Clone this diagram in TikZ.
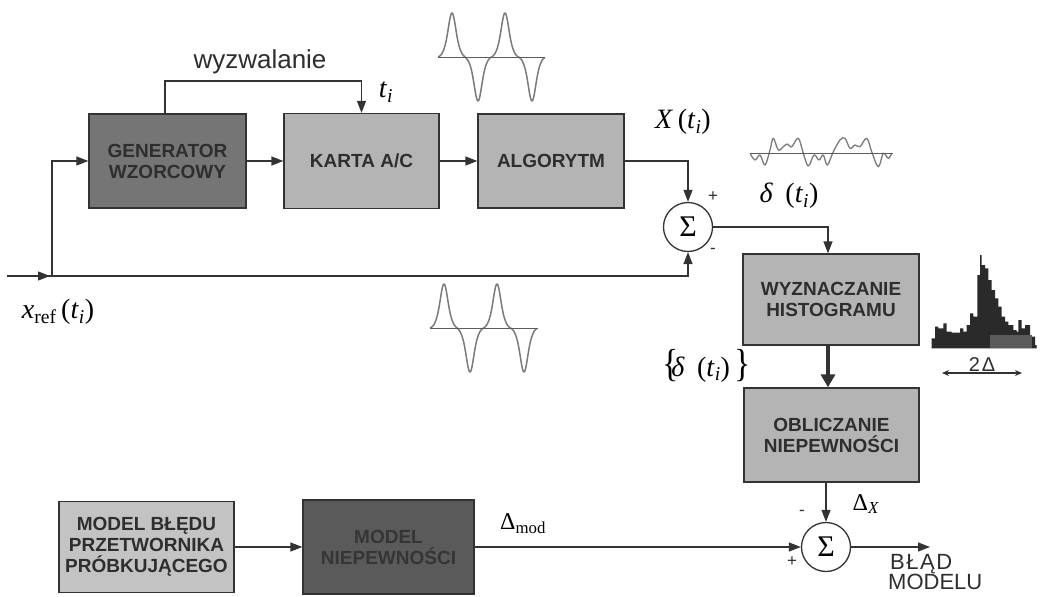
\documentclass[tikz,border=0pt]{standalone}
\usepackage{fontspec}
\usepackage{graphicx}
\setmainfont{Liberation Serif}
\newfontfamily\sansf{Liberation Sans}
\usetikzlibrary{arrows.meta}
\definecolor{ln}{HTML}{333333}
\definecolor{txt}{HTML}{2E2E2E}
\definecolor{darkfill}{HTML}{757575}
\definecolor{darkerfill}{HTML}{5A5A5A}
\definecolor{lightfill}{HTML}{B4B4B4}
\definecolor{lighterfill}{HTML}{C3C3C3}
\definecolor{wavec}{HTML}{7A7A7A}
\definecolor{histc}{HTML}{2A2A2A}
\newcommand\lblfont{\fontsize{28}{30}\selectfont}
\newcommand\sub[1]{\textsubscript{#1}}
\begin{document}
\begin{tikzpicture}[x=1pt,y=-1pt,
  con/.style={draw=ln,line width=1.3pt},
  arr/.style={con,-{Triangle[length=12pt,width=9pt]}},
  thickarr/.style={draw=ln,line width=4pt,-{Triangle[length=13pt,width=14pt]}},
  blk/.style={draw=ln,line width=1.3pt,inner sep=0pt,align=center,text=txt,
    font=\sansf\bfseries\fontsize{19}{21}\selectfont},
  sumnode/.style={circle,draw=ln,line width=1.3pt,fill=white,minimum size=49pt,inner sep=0pt,
    font=\fontsize{30}{30}\selectfont},
  lbl/.style={inner sep=0pt,text=black,font=\lblfont},
  sgn/.style={inner sep=0pt,text=txt,font=\sansf\fontsize{17}{17}\selectfont},
  wave/.style={draw=wavec,line width=1.5pt,line join=round},
  axisl/.style={draw=ln!80,line width=1pt},
  declare function={pls(\t)=36*exp(-(\t/5)*(\t/5))+8*exp(-(\t/10)*(\t/10)*(\t/10)*(\t/10));
                    wav(\t)=pls(\t-14)-pls(\t-40)+pls(\t-67)-pls(\t-94);}
]
\fill[white] (0,0) rectangle (1042,597);
\useasboundingbox (0,0) rectangle (1042,597);

% blocks
\node[blk,fill=darkfill,minimum width=157pt,minimum height=94pt] (gen) at (167.5,161) {GENERATOR\\WZORCOWY};
\node[blk,fill=lightfill,minimum width=155pt,minimum height=95pt] (karta) at (361.5,161) {KARTA A/C};
\node[blk,fill=lightfill,minimum width=146pt,minimum height=94pt] (alg) at (551,161) {ALGORYTM};
\node[blk,fill=lightfill,minimum width=176pt,minimum height=91pt] (wyzn) at (831,299.5) {WYZNACZANIE\\HISTOGRAMU};
\node[blk,fill=lightfill,minimum width=175pt,minimum height=94pt] (oblic) at (831.5,435) {OBLICZANIE\\NIEPEWNOŚCI};
\node[blk,fill=lighterfill,minimum width=175pt,minimum height=91pt] (mbl) at (146.5,547) {MODEL BŁĘDU\\PRZETWORNIKA\\PRÓBKUJĄCEGO};
\node[blk,fill=darkerfill,text=txt!85!darkerfill,minimum width=171pt,minimum height=94pt] (mnp) at (388.5,547) {MODEL\\NIEPEWNOŚCI};

% summing junctions
\node[sumnode] (s1) at (688,227) {Σ};
\node[sumnode] (s2) at (826,547) {Σ};

% coordinates
\coordinate (in) at (7,276);
\coordinate (br) at (52,276);
\coordinate (trg) at (165,81);
\coordinate (col) at (828,300);
\coordinate (out) at (930,547);

% connectors
\draw[con] (in) -- (br);
\draw[arr] (in) -- (50,276);
\draw[arr] (br) |- (gen.west);
\draw[arr] (br) -| (s1.south);
\draw[arr] (gen.north -| trg) -- (trg) -| (karta.north);
\draw[arr] (gen.east) -- (gen.east -| karta.west);
\draw[arr] (karta.east) -- (karta.east -| alg.west);
\draw[arr] (alg.east) -| (s1.north);
\draw[arr] (s1.east) -| (wyzn.north -| col);
\draw[thickarr] (wyzn.south -| col) -- (oblic.north -| col);
\draw[arr] (oblic.south -| s2) -- (s2.north);
\draw[arr] (mbl.east) -- (mbl.east -| mnp.west);
\draw[arr] (mnp.east) -- (s2.west);
\draw[arr] (s2.east) -- (out);

% labels
\node[inner sep=0pt,text=txt,font=\sansf\fontsize{26}{26}\selectfont] (wyz) at (260,62) {wyzwalanie};
\node[lbl] (ti) at (386,92) {\textit{t}\sub{\textit{i}}};
\node[lbl] (xt) at (683,122) {\textit{X}\,(\textit{t}\sub{\textit{i}})};
\node[lbl] (dt) at (789,196) {\textit{δ}\;\,(\textit{t}\sub{\textit{i}})};
\node[lbl] (xref) at (58,312) {\textit{x}\sub{ref}\,(\textit{t}\sub{\textit{i}})};
\node[lbl] (dset) at (707,366) {{\fontsize{34}{34}\selectfont\scalebox{1}[1.15]{\{}}\kern-8pt\textit{δ}\;\,(\textit{t}\sub{\textit{i}})\,{\fontsize{34}{34}\selectfont\scalebox{1}[1.15]{\}}}};
\node[inner sep=0pt,font=\fontsize{24}{24}\selectfont] (dx) at (866,504) {Δ\sub{\textit{X}}};
\node[inner sep=0pt,font=\fontsize{24}{24}\selectfont,anchor=west] (dmod) at (500,524) {Δ\sub{mod}};
\node[sgn] (p1) at (713,197) {+};
\node[sgn] (m1) at (713,251) {-};
\node[sgn] (m2) at (802,513) {-};
\node[sgn] (p2) at (792,562) {+};
\node[inner sep=0pt,align=left,anchor=west,text=txt,font=\sansf\fontsize{22}{19}\selectfont] (blad) at (888,572) {\kern2pt B\kern1.5pt Ł\kern1.5pt Ą\kern1.5pt D\\MODELU};

% waveforms
\draw[wave] plot[domain=0:107,samples=220,smooth] ({438+\x},{57-wav(\x)});
\draw[axisl] (438,57) -- (545,57);
\draw[wave] plot[domain=0:107,samples=220,smooth] ({430+\x},{328-wav(\x)});
\draw[axisl] (430,328) -- (538,328);
\draw[wave,line width=1.3pt] plot[smooth,tension=0.6] coordinates {(750,153.3) (755,160) (760,155) (765,165) (770,150) (773.3,138.3)
  (778.3,150) (783.3,146.7) (787.3,144) (791.7,146.7) (798.3,138.3) (803.3,153.3) (808.3,166) (814,155) (819,160)
  (823.3,155) (827.3,165) (833.3,151.7) (840,140) (845,138.3) (850,148.3) (855,145) (860,146.7) (866.7,138.3)
  (871.7,151.7) (878.3,166.7) (883.3,153.3) (888.3,158.3) (891.7,153.3)};
\draw[axisl] (750,153) -- (893,153);

% histogram
\fill[histc] (931.7,348.3) |- (935,338.3) |- (938.3,326.7) |- (943.3,328.3) |- (946.7,323.3) |- (951.7,331.7)
  |- (960,332.7) |- (963.3,328.3) |- (966.7,331.7) |- (970,325) |- (973.3,313.3) |- (977.3,316.7) |- (980,275)
  |- (981.7,255) |- (985,265) |- (988.3,268.3) |- (991.7,280) |- (995,290) |- (998.3,298.3) |- (1001.7,306.7)
  |- (1005,316.7) |- (1008.3,321.7) |- (1013.3,325) |- (1016.7,330) |- (1018.3,331.7) |- (1021.7,320)
  |- (1025,328.3) |- (1030,325) |- (1035,336.7) |- (1036.7,345) -- (1036.7,348.3) -- cycle;
\fill[darkerfill] (990,335) rectangle (1032,348.3);
\coordinate (ha) at (942,373);
\coordinate (hb) at (1022,373);
\draw[draw=ln,line width=1.2pt,{Stealth[length=7pt,width=6pt]}-{Stealth[length=7pt,width=6pt]}] (ha) -- (hb);
\node[inner sep=0pt,anchor=south,text=txt,font=\sansf\fontsize{20}{20}\selectfont] (twod) at (982,372) {2\kern2pt Δ};
\end{tikzpicture}
\end{document}
